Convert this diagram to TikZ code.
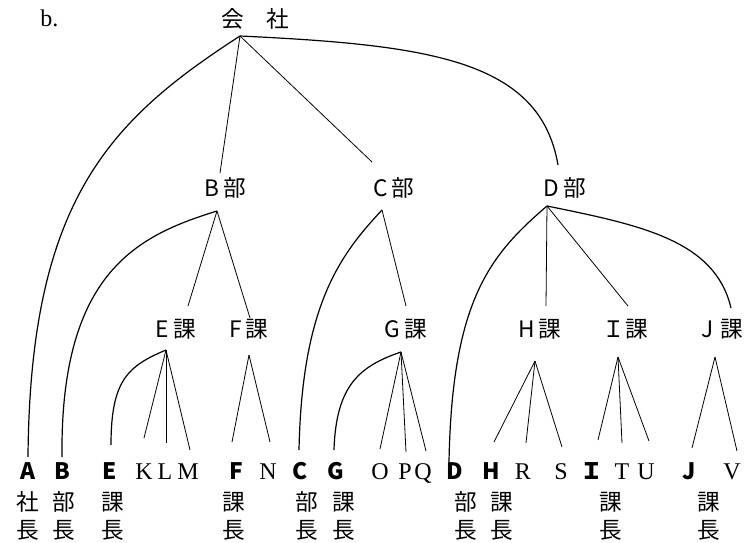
\documentclass[tikz,border=0pt]{standalone}
\usepackage{fontspec}
\setmainfont{Liberation Serif}
\newfontfamily\jp{Noto Sans CJK JP}
\begin{document}
\begin{tikzpicture}[x=0.75pt,y=-0.75pt,
  lbl/.style={inner sep=0pt, anchor=base, font=\jp\fontsize{17}{17}\selectfont},
  lf/.style={inner sep=0pt, anchor=base, font=\jp\bfseries\fontsize{17}{17}\selectfont},
  lat/.style={inner sep=0pt, anchor=base, font=\fontsize{18}{18}\selectfont},
  ln/.style={line width=0.6pt},
  cv/.style={line width=0.9pt}]
\useasboundingbox (0,0) rectangle (751,543);

% title
\node[lat, anchor=base west] (b) at (40,26) {b.};
\node[lbl] (root) at (255,27) {会　社};

% level 2
\node[lbl] (Bbu) at (225,196) {B\hspace{3pt}部};
\node[lbl] (Cbu) at (394,196) {C\hspace{3pt}部};
\node[lbl] (Dbu) at (565,196) {D\hspace{3pt}部};

% level 3
\node[lbl] (Eka) at (176,337) {E\hspace{3pt}課};
\node[lbl] (Fka) at (249,337) {F\hspace{3pt}課};
\node[lbl] (Gka) at (406,337) {G\hspace{3pt}課};
\node[lbl] (Hka) at (540,337) {H\hspace{3pt}課};
\node[lbl] (Ika) at (625,337) {Ｉ課};
\node[lbl] (Jka) at (722,337) {J\hspace{5pt}課};

% leaves: bold letters
\foreach \n/\x/\t in {A/28/A, B/62/B, E/110/E, F/236/F, C/300/C, G/336/G, D/455/D, H/491/H, I/592/Ｉ, J/689/J}
  \node[lf] (leaf\n) at (\x,479) {\t};
% leaves: serif letters
\foreach \n/\x in {K/144, L/165, M/188, N/268, O/380, P/405, Q/423, R/523, S/561, T/622, U/646, V/732}
  \node[lat] (leaf\n) at (\x,479) {\n};
% titles under leaves
\foreach \n/\x/\t in {A/28/社, B/64/部, E/113/課, F/234/課, C/307/部, G/344/課, D/466/部, H/502/課, I/611/課, J/709/課}{
  \node[lbl] (t1\n) at (\x,510) {\t};
  \node[lbl] (t2\n) at (\x,538) {長};
}

% junction points
\coordinate (jR) at (240,36);
\coordinate (jB) at (217,211);
\coordinate (jC) at (382,210);
\coordinate (jD) at (547,206);
\coordinate (jE) at (166,350);
\coordinate (jF) at (249,355);
\coordinate (jG) at (401,352);
\coordinate (jH) at (535,361);
\coordinate (jI) at (618,357);
\coordinate (jJ) at (715,357);

% upper ends of branches
\coordinate (tB) at (220,173);
\coordinate (tC) at (372,162);
\coordinate (tD) at (558,165);
\coordinate (tE) at (188,306);
\coordinate (tF) at (250,318);
\coordinate (tG) at (406,306);
\coordinate (tH) at (546,306);
\coordinate (tI) at (628,306);
\coordinate (tJ) at (731,308);

% lower ends at leaves
\coordinate (eA) at (28,457);
\coordinate (eB) at (62,457);
\coordinate (eE) at (111,445);
\coordinate (eK) at (144,438);
\coordinate (eL) at (166,443);
\coordinate (eM) at (190,450);
\coordinate (eF) at (232,442);
\coordinate (eN) at (270,442);
\coordinate (eC) at (299,450);
\coordinate (eG) at (334,450);
\coordinate (eO) at (380,449);
\coordinate (eP) at (406,452);
\coordinate (eQ) at (426,451);
\coordinate (eD) at (449,462);
\coordinate (eH) at (494,442);
\coordinate (eR) at (526,443);
\coordinate (eS) at (562,447);
\coordinate (eI) at (598,440);
\coordinate (eT) at (622,443);
\coordinate (eU) at (649,441);
\coordinate (eJ) at (692,448);
\coordinate (eV) at (737,451);

% company level
\draw[cv] (jR) .. controls (110,120) and (30,200) .. (eA);
\draw[ln] (jR) -- (tB);
\draw[ln] (jR) -- (tC);
\draw[cv] (jR) .. controls (430,45) and (540,60) .. (tD);

% B dept
\draw[cv] (jB) .. controls (140,235) and (60,270) .. (eB);
\draw[ln] (jB) -- (tE);
\draw[ln] (jB) -- (tF);

% C dept
\draw[cv] (jC) .. controls (340,255) and (302,305) .. (eC);
\draw[ln] (jC) -- (tG);

% D dept
\draw[cv] (jD) .. controls (490,255) and (452,300) .. (eD);
\draw[ln] (jD) -- (tH);
\draw[ln] (jD) -- (tI);
\draw[cv] (jD) .. controls (640,225) and (715,240) .. (tJ);

% E section
\draw[cv] (jE) .. controls (128,366) and (111,380) .. (eE);
\draw[ln] (jE) -- (eK);
\draw[ln] (jE) -- (eL);
\draw[ln] (jE) -- (eM);

% F section
\draw[ln] (jF) -- (eF);
\draw[ln] (jF) -- (eN);

% G section
\draw[cv] (jG) .. controls (360,366) and (336,385) .. (eG);
\draw[ln] (jG) -- (eO);
\draw[ln] (jG) -- (eP);
\draw[ln] (jG) -- (eQ);

% H section
\draw[ln] (jH) -- (eH);
\draw[ln] (jH) -- (eR);
\draw[ln] (jH) -- (eS);

% I section
\draw[ln] (jI) -- (eI);
\draw[ln] (jI) -- (eT);
\draw[ln] (jI) -- (eU);

% J section
\draw[ln] (jJ) -- (eJ);
\draw[ln] (jJ) -- (eV);
\end{tikzpicture}
\end{document}
